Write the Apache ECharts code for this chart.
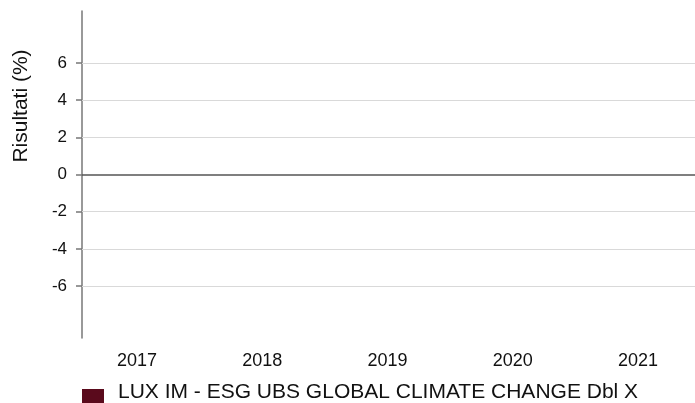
<!DOCTYPE html>
<html>
<head>
<meta charset="utf-8">
<script src="https://cdn.jsdelivr.net/npm/echarts@6/dist/echarts.min.js"></script>
<style>html,body{margin:0;padding:0;background:#fff}#c{width:695px;height:403px}</style>
</head>
<body>
<div id="c"></div>
<script>
const categories = [2017, 2018, 2019, 2020, 2021];
const seriesName = 'LUX IM - ESG UBS GLOBAL CLIMATE CHANGE Dbl X';
const seriesValues = [null, null, null, null, null];
const yTicks = [-6, -4, -2, 0, 2, 4, 6];
const gridValues = [-6, -4, -2, 2, 4, 6];
const yAxisTitle = 'Risultati (%)';

const FONT = 'Liberation Sans, Arial, sans-serif';
const chart = echarts.init(document.getElementById('c'), null, {renderer: 'canvas'});
chart.setOption({
  animation: false,
  backgroundColor: '#fff',
  grid: {left: 82, right: 0, top: 11, bottom: 65, containLabel: false},
  xAxis: {
    type: 'value',
    min: 2016.561, max: 2021.455,
    axisLine: {show: false},
    axisTick: {show: false},
    splitLine: {show: false},
    axisLabel: {customValues: categories, formatter: v => String(v), color: '#111', fontSize: 18, fontFamily: FONT, margin: 14}
  },
  yAxis: {
    type: 'value',
    min: -8.8, max: 8.8,
    axisLine: {show: true, onZero: false, lineStyle: {color: '#777', width: 1.5}},
    axisTick: {show: true, customValues: yTicks, length: 6, lineStyle: {color: '#777', width: 1.5}},
    axisLabel: {customValues: yTicks, color: '#111', fontSize: 17, fontFamily: FONT, margin: 15},
    splitLine: {show: false}
  },
  legend: {
    left: 82, top: 377, padding: 0,
    itemWidth: 22, itemHeight: 30,
    icon: 'path://M0,0L0,0Z M0,12L22,12L22,30L0,30Z',
    data: [seriesName],
    textStyle: {fontSize: 21, color: '#111', fontFamily: FONT, padding: [0, 0, 0, 9]}
  },
  graphic: [{
    type: 'text', x: 21, y: 106, rotation: Math.PI / 2,
    style: {text: yAxisTitle, fontSize: 21, fontFamily: FONT, fill: '#111', align: 'center', verticalAlign: 'middle'}
  }],
  series: [{
    name: seriesName,
    type: 'bar',
    barWidth: 40,
    itemStyle: {color: '#5a0a1c'},
    data: categories.map((c, i) => [c, seriesValues[i]]),
    markLine: {
      silent: true, symbol: 'none', label: {show: false}, animation: false,
      data: gridValues.map(v => ({yAxis: v, lineStyle: {color: '#d9d9d9', width: 1.2, type: 'solid'}}))
        .concat([{yAxis: 0, lineStyle: {color: '#555', width: 1.5, type: 'solid'}}])
    }
  }]
});
</script>
</body>
</html>
